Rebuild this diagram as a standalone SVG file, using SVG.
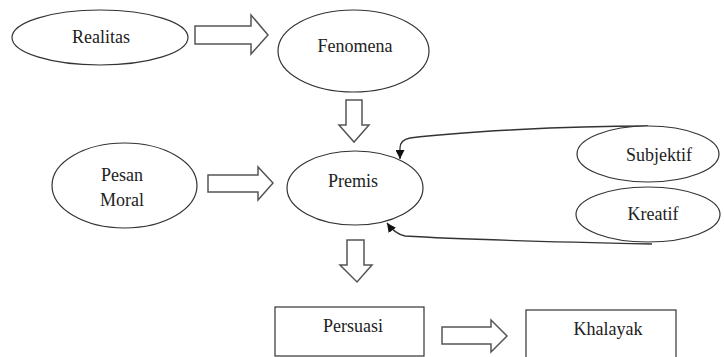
<svg xmlns="http://www.w3.org/2000/svg" width="724" height="357" viewBox="0 0 724 357">
<defs>
<style>
.n{fill:#fff;stroke:#333;stroke-width:1.2}
.t{font-family:'Liberation Serif','Times New Roman','Tinos','DejaVu Serif',serif;font-size:18px;fill:#222;text-anchor:middle}
.ba{fill:#fff;stroke:#555;stroke-width:1.5;stroke-linejoin:miter}
.fb{fill:none;stroke:#333;stroke-width:1.3}
</style>
<marker id="ah" viewBox="0 0 10 10" refX="10" refY="5" markerWidth="9" markerHeight="9" markerUnits="userSpaceOnUse" orient="auto">
<path d="M0,0 L10,5 L0,10 z" fill="#111"/>
</marker>
</defs>
<rect width="724" height="357" fill="#fff"/>
<g id="connectors">
<path class="ba" d="M195 26 H251 V15 L268 35 L251 54 V44 H195 Z"/>
<path class="ba" d="M346 100 H362 V125 H369 L354 142 L339 125 H346 Z"/>
<path class="ba" d="M208 175 H258 V167 L273 183 L258 200 V192 H208 Z"/>
<path class="ba" d="M347 240 H364 V265 H372 L357 282 L340 265 H347 Z"/>
<path class="ba" d="M442 327 H491 V320 L507 336 L491 352 V344 H442 Z"/>
<path class="fb" d="M648 126 C560 126 460 132 410 138 Q400 140 400 148 L400 159" marker-end="url(#ah)"/>
<path class="fb" d="M652 244 C560 242 470 240 405 236 Q395 234 387 223" marker-end="url(#ah)"/>
</g>
<g id="realitas"><ellipse class="n" cx="100" cy="37.5" rx="88" ry="27.5"/><text class="t" x="101" y="43" font-family="Liberation Serif, serif">Realitas</text></g>
<g id="fenomena"><ellipse class="n" cx="353.5" cy="51" rx="75.5" ry="41"/><text class="t" x="355" y="52">Fenomena</text></g>
<g id="pesan-moral"><ellipse class="n" cx="124.5" cy="185.5" rx="72.5" ry="42.5"/><text class="t" x="122" y="181">Pesan</text><text class="t" x="122" y="206">Moral</text></g>
<g id="premis"><ellipse class="n" cx="355" cy="188" rx="68" ry="37"/><text class="t" x="353" y="187">Premis</text></g>
<g id="subjektif"><ellipse class="n" cx="648" cy="154" rx="71" ry="28"/><text class="t" x="659" y="161">Subjektif</text></g>
<g id="kreatif"><ellipse class="n" cx="648" cy="214.5" rx="72" ry="27.5"/><text class="t" x="653" y="220">Kreatif</text></g>
<g id="persuasi"><rect class="n" x="275" y="307" width="149" height="49"/><text class="t" x="353" y="332">Persuasi</text></g>
<g id="khalayak"><rect class="n" x="526" y="310" width="150" height="50"/><text class="t" x="608" y="335">Khalayak</text></g>
</svg>
